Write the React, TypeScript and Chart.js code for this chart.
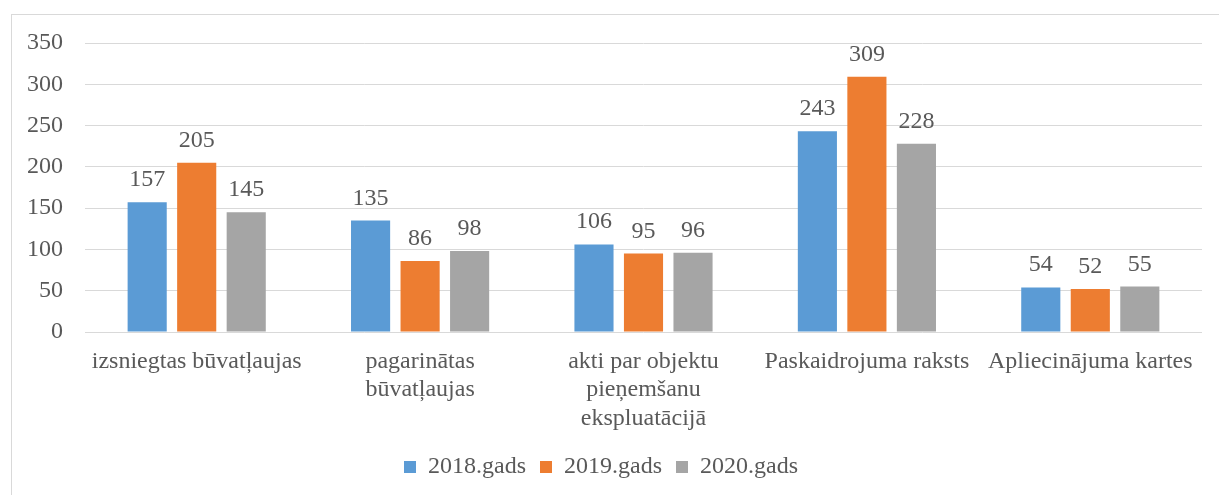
import React, { useEffect, useRef } from "react";
import { Chart, registerables } from "chart.js";

Chart.register(...registerables);

const categories: (string | string[])[] = [
  "izsniegtas būvatļaujas",
  ["pagarinātas", "būvatļaujas"],
  ["akti par objektu", "pieņemšanu", "ekspluatācijā"],
  "Paskaidrojuma raksts",
  "Apliecinājuma kartes",
];
const series2018 = [157, 135, 106, 243, 54];
const series2019 = [205, 86, 95, 309, 52];
const series2020 = [145, 98, 96, 228, 55];
const seriesNames = ["2018.gads", "2019.gads", "2020.gads"];
const colors = ["#5B9BD5", "#ED7D31", "#A5A5A5"];

const FONT = "'Liberation Serif', 'Times New Roman', serif";
const TEXT = "#595959";

const dataLabels = {
  id: "dataLabels",
  afterDatasetsDraw(chart: any) {
    const ctx = chart.ctx;
    ctx.save();
    ctx.font = `24px ${FONT}`;
    ctx.fillStyle = TEXT;
    ctx.textAlign = "center";
    ctx.textBaseline = "alphabetic";
    chart.data.datasets.forEach((ds: any, i: number) => {
      const meta = chart.getDatasetMeta(i);
      meta.data.forEach((bar: any, j: number) => {
        ctx.fillText(String(ds.data[j]), bar.x, bar.y - 16);
      });
    });
    ctx.restore();
  },
};

export default function App() {
  const ref = useRef<HTMLCanvasElement>(null);
  useEffect(() => {
    if (!ref.current) return;
    const data = [series2018, series2019, series2020];
    const chart = new Chart(ref.current, {
      type: "bar",
      data: {
        labels: categories,
        datasets: data.map((d, i) => ({
          label: seriesNames[i],
          data: d,
          backgroundColor: colors[i],
          categoryPercentage: 0.665,
          barPercentage: 0.79,
        })),
      },
      options: {
        animation: false,
        responsive: false,
        maintainAspectRatio: false,
        layout: { padding: { left: 0, right: 17, top: 43, bottom: 6 } },
        plugins: {
          tooltip: { enabled: false },
          legend: {
            position: "bottom",
            labels: {
              font: { size: 24, family: FONT },
              color: TEXT,
              boxWidth: 12,
              boxHeight: 12,
              padding: 14,
            },
          },
        },
        scales: {
          x: {
            grid: { display: false, drawTicks: false },
            border: { display: false },
            ticks: {
              font: { size: 24, family: FONT },
              color: TEXT,
              padding: 15,
              maxRotation: 0,
              autoSkip: false,
            },
            afterFit(scale: any) {
              scale.height = 109;
            },
          },
          y: {
            min: 0,
            max: 350,
            ticks: {
              stepSize: 50,
              font: { size: 24, family: FONT },
              color: TEXT,
              padding: 22,
            },
            grid: { color: "#D9D9D9", lineWidth: 1, drawTicks: false },
            border: { display: false },
            afterFit(scale: any) {
              scale.width = 85;
            },
          },
        },
      },
      plugins: [dataLabels],
    });
    return () => chart.destroy();
  }, []);
  return (
    <div style={{ position: "absolute", left: 0, top: 0, width: 1219, height: 495, background: "#fff" }}>
      <div
        style={{
          position: "absolute",
          left: 11,
          top: 14,
          right: 0,
          bottom: 0,
          borderTop: "1px solid #D9D9D9",
          borderLeft: "1px solid #D9D9D9",
        }}
      />
      <canvas ref={ref} width={1219} height={495} style={{ position: "absolute", left: 0, top: 0 }} />
    </div>
  );
}
